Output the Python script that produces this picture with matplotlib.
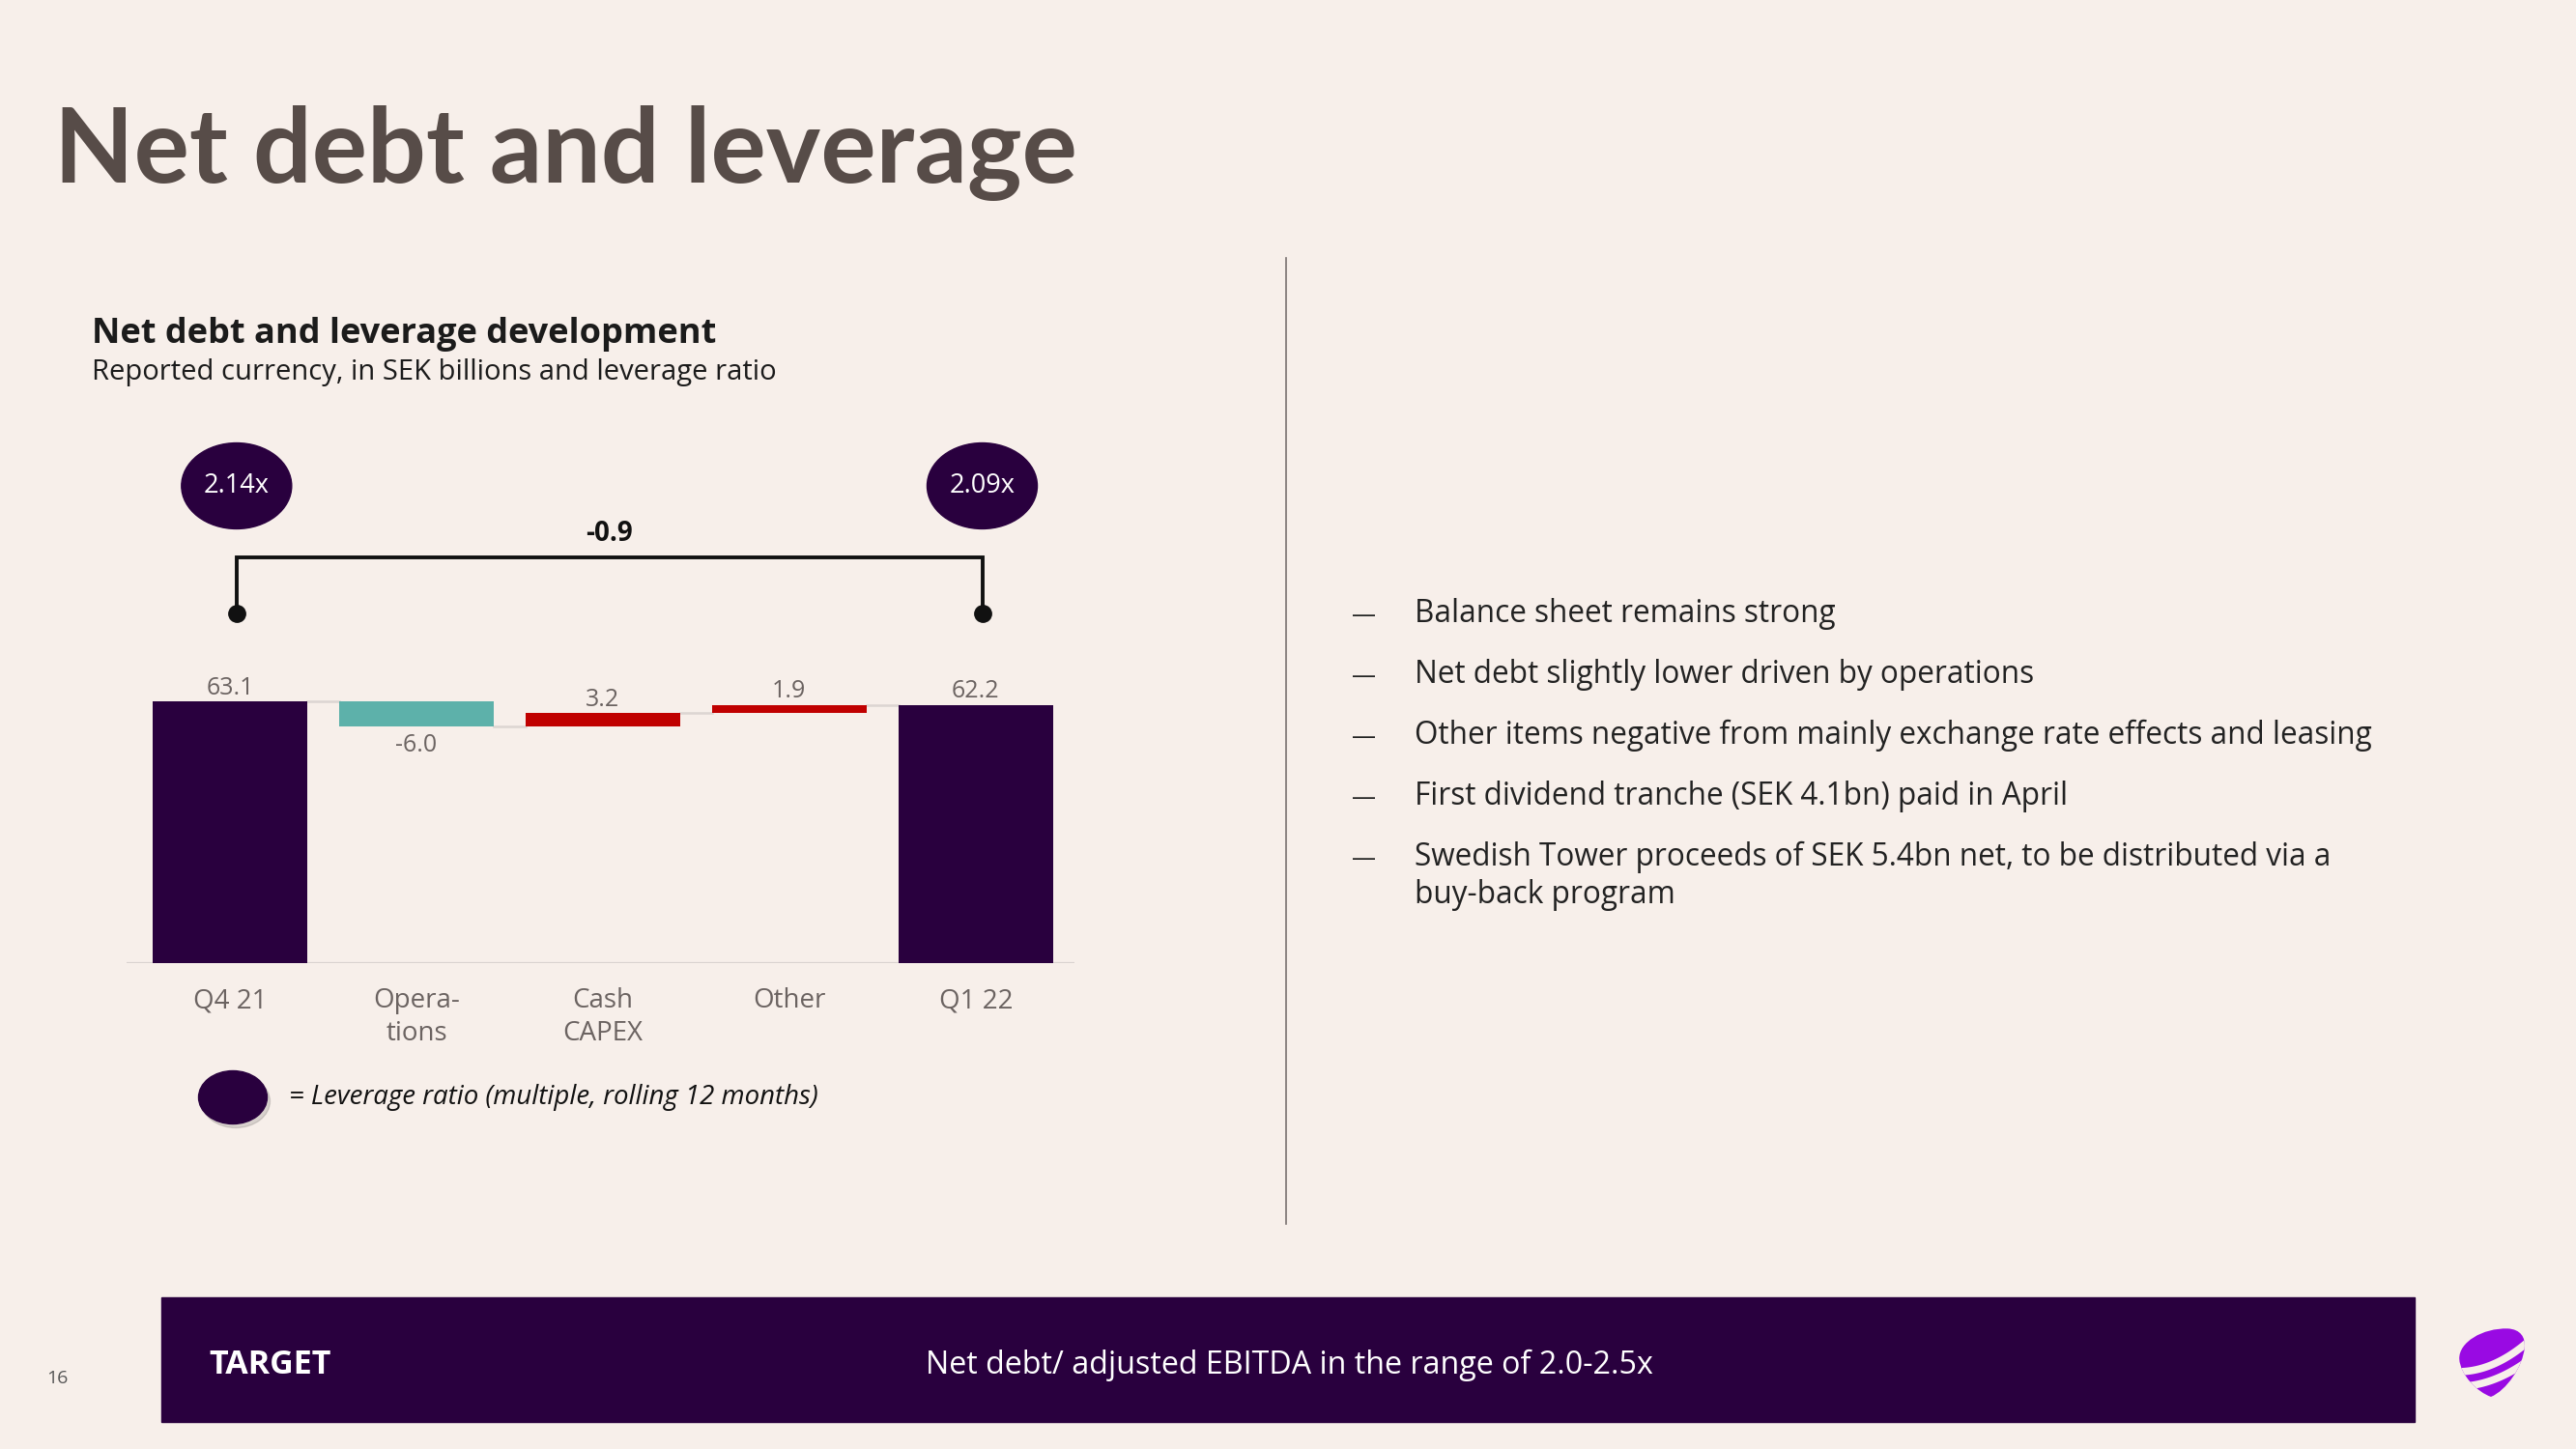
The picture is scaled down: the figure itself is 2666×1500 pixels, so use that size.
import numpy as np
import matplotlib
matplotlib.use("Agg")
import matplotlib.pyplot as plt
from matplotlib.patches import Ellipse, Rectangle, PathPatch
from matplotlib.path import Path
from matplotlib.lines import Line2D

plt.rcParams['font.family'] = ['Open Sans', 'DejaVu Sans']

# figure size in pixels
W, H = 2666, 1500

BG = '#f7efea'
PURPLE = '#29003e'
TEAL = '#5db1aa'
RED = '#c00000'
GREY = '#6b6361'
TITLE_COL = '#574c48'
LOGO = '#990ae3'

# data
categories = ['Q4 21', 'Opera-\ntions', 'Cash\nCAPEX', 'Other', 'Q1 22']
values = [63.1, -6.0, 3.2, 1.9, 62.2]
is_total = [True, False, False, False, True]
leverage = ['2.14x', '2.09x']

bullets = [
    'Balance sheet remains strong',
    'Net debt slightly lower driven by operations',
    'Other items negative from mainly exchange rate effects and leasing',
    'First dividend tranche (SEK 4.1bn) paid in April',
    'Swedish Tower proceeds of SEK 5.4bn net, to be distributed via a\nbuy-back program',
]
target_label = 'TARGET'
target_text = 'Net debt/ adjusted EBITDA in the range of 2.0-2.5x'
page_no = '16'


def fx(px):
    return px / W


def fy(py):
    return 1 - py / H


fig = plt.figure(figsize=(W / 100, H / 100), dpi=100)
fig.patch.set_facecolor(BG)

# titles
fig.text(fx(56), fy(189), 'Net debt and leverage', fontsize=77.2, weight='bold',
         color=TITLE_COL, va='baseline', family=['Lato', 'DejaVu Sans'])
fig.text(fx(95), fy(355), 'Net debt and leverage development', fontsize=26,
         weight='bold', color='#1b1b1b', va='baseline')
fig.text(fx(95), fy(393), 'Reported currency, in SEK billions and leverage ratio',
         fontsize=21, color='#1b1b1b', va='baseline')

# waterfall
ax = fig.add_axes([fx(131), fy(997), 981 / W, 300.7 / H])
ax.set_xlim(-0.555, 4.53)
ax.set_ylim(0, 70)
ax.patch.set_alpha(0)
for s in ax.spines.values():
    s.set_visible(False)
ax.set_yticks([])

x = np.arange(len(values))
bw = 0.83
bottoms, heights, colors, levels = [], [], [], []
run = 0
for v, tot in zip(values, is_total):
    if tot:
        bottoms.append(0)
        heights.append(v)
        colors.append(PURPLE)
        run = v
    else:
        new = run + v
        bottoms.append(min(run, new))
        heights.append(abs(v))
        colors.append(TEAL if v < 0 else RED)
        run = new
    levels.append(run)

ax.bar(x, heights, bottom=bottoms, width=bw, color=colors, zorder=2)
ax.axhline(0, color='#d9d2cf', lw=1.6, zorder=1)

# connectors
for i in range(len(values) - 1):
    ax.plot([x[i] + bw / 2, x[i + 1] - bw / 2], [levels[i], levels[i]],
            color='#dcd5d2', lw=1.8, zorder=1)

# value labels
for i, v in enumerate(values):
    if v < 0:
        ax.annotate(f'{v:.1f}', (x[i], bottoms[i]), xytext=(0, -5),
                    textcoords='offset points', ha='center', va='top',
                    fontsize=18, color=GREY)
    else:
        ax.annotate(f'{v:.1f}', (x[i], bottoms[i] + heights[i]), xytext=(0, 1),
                    textcoords='offset points', ha='center', va='bottom',
                    fontsize=18, color=GREY)

ax.set_xticks(x, categories)
ax.tick_params(axis='x', length=0, pad=18, labelsize=20, labelcolor=GREY)
for lab in ax.get_xticklabels():
    lab.set_linespacing(1.3)
    lab.set_va('top')

# bracket with leverage change
off = 0.035
xl, xr = x[0] + off, x[-1] + off
y_h, y_dot = 97.8, 84.3
ax.plot([xl, xl, xr, xr], [y_dot, y_h, y_h, y_dot], color='#111111', lw=2.8,
        clip_on=False, solid_joinstyle='miter', zorder=3)
ax.plot([xl, xr], [y_dot, y_dot], 'o', color='#111111', ms=12.5, clip_on=False, zorder=4)
ax.text((xl + xr) / 2, 103.4, f'{values[-1] - values[0]:.1f}', ha='center', va='center',
        fontsize=20, weight='bold', color='#111111')

for xi, lab in zip([xl, xr], leverage):
    ax.add_patch(Ellipse((xi, 115), 0.591, 20.7, color=PURPLE, clip_on=False, zorder=3))
    ax.text(xi, 115, lab, ha='center', va='center', fontsize=19.5, color='white', zorder=4)

# legend
fig.add_artist(Ellipse((fx(244), fy(1140)), 71 / W, 55 / H, transform=fig.transFigure,
                       color='#000000', alpha=0.12))
fig.add_artist(Ellipse((fx(241), fy(1136)), 71 / W, 55 / H, transform=fig.transFigure,
                       color=PURPLE))
fig.text(fx(299), fy(1136), '= Leverage ratio (multiple, rolling 12 months)', fontsize=19.9,
         style='italic', color='#111111', va='center')

# separator
fig.add_artist(Line2D([fx(1331), fx(1331)], [fy(267), fy(1267)], color='#7a7270', lw=1.2,
                      transform=fig.transFigure))

# bullets
yb = 644
for b in bullets:
    lines = b.split('\n')
    fig.text(fx(1399), fy(yb), '\u2014', fontsize=18, color='#222222', va='baseline')
    for j, line in enumerate(lines):
        fig.text(fx(1464), fy(yb + j * 39), line, fontsize=22.7, color='#222222', va='baseline')
    yb += 63 + (len(lines) - 1) * 39

# target bar
fig.add_artist(Rectangle((fx(167), fy(1472)), (2499 - 167) / W, (1472 - 1343) / H,
                         transform=fig.transFigure, color=PURPLE))
fig.text(fx(216), fy(1413), target_label, fontsize=24.5, weight='bold', color='white', va='center')
fig.text(fx(1334), fy(1413), target_text, fontsize=23.2, color='white', va='center', ha='center')

fig.text(fx(48), fy(1427), page_no, fontsize=14, color='#555555', va='center')

# logo
lax = fig.add_axes([fx(2579 - 41), fy(1411 + 41), 82 / W, 82 / H])
lax.set_xlim(-1.25, 1.25)
lax.set_ylim(-1.15, 1.15)
lax.axis('off')
verts = [(-0.03, -0.98),
         (-0.45, -0.85), (-1.0, -0.35), (-1.03, 0.12),
         (-1.05, 0.6), (-0.3, 1.02), (0.5, 1.0),
         (0.9, 0.98), (1.06, 0.75), (1.03, 0.45),
         (0.98, -0.1), (0.45, -0.8), (-0.03, -0.98),
         (-0.03, -0.98)]
codes = [Path.MOVETO] + [Path.CURVE4] * 12 + [Path.CLOSEPOLY]
shape = PathPatch(Path(verts, codes), facecolor=LOGO, edgecolor='none')
lax.add_patch(shape)
u = np.linspace(-1.3, 1.3, 60)
for a, b_, c in [(-0.05, 0.38, 0.18), (-0.5, 0.33, 0.15)]:
    ln, = lax.plot(u, a + b_ * u + c * u ** 2, color=BG, lw=5.5, solid_capstyle='butt')
    ln.set_clip_path(shape)

fig.savefig('out.png', dpi=100, facecolor=BG)
